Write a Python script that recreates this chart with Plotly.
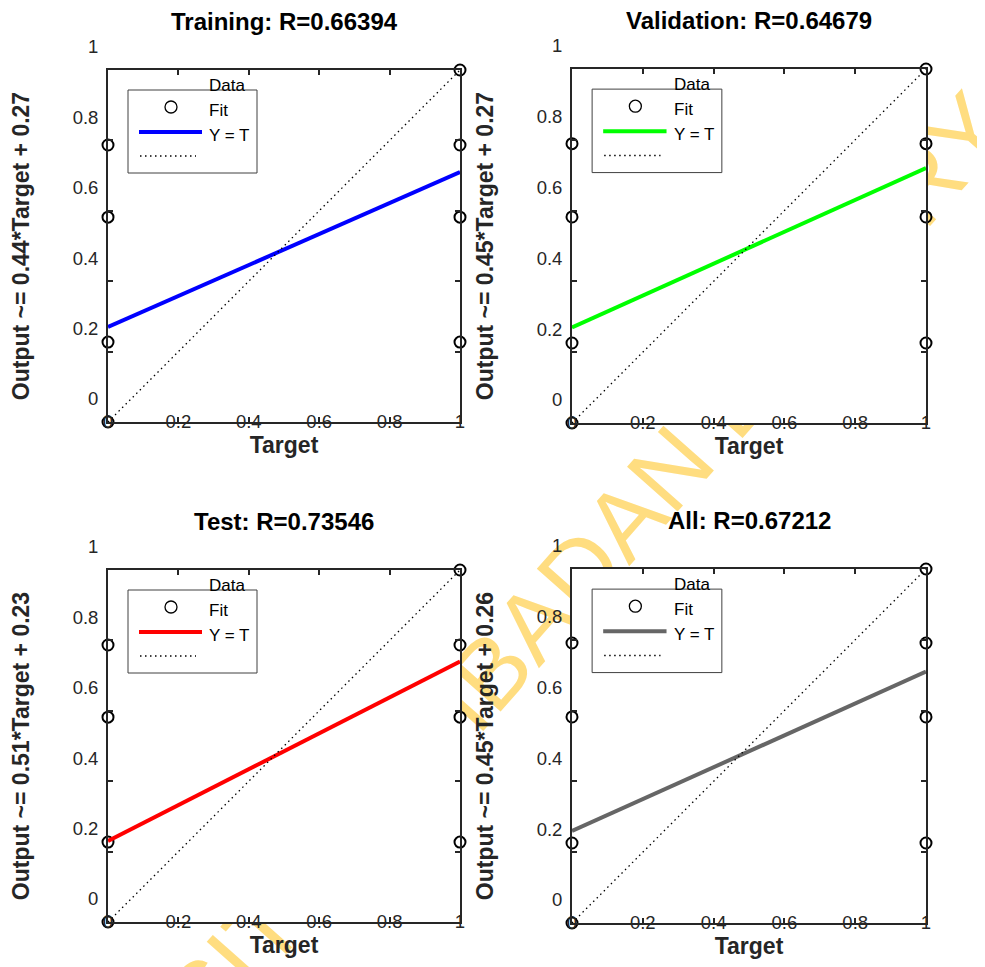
import plotly.graph_objects as go

# ---------------- data ----------------
panel_names = ["Training", "Validation", "Test", "All"]
r_values = [0.66394, 0.64679, 0.73546, 0.67212]
fit_slopes = [0.44, 0.45, 0.51, 0.45]
fit_intercepts = [0.27, 0.27, 0.23, 0.26]
fit_colors = ["#0000FF", "#00FF00", "#FF0000", "#666666"]

target_values = [0, 0, 0, 0, 1, 1, 1, 1]
output_training = [0.787, 0.582, 0.227, 0.0, 1.0, 0.787, 0.582, 0.227]
output_validation = [0.789, 0.582, 0.226, 0.0, 1.0, 0.789, 0.582, 0.226]
output_test = [0.787, 0.582, 0.227, 0.0, 1.0, 0.787, 0.582, 0.227]
output_all = [0.791, 0.582, 0.226, 0.0, 1.0, 0.791, 0.582, 0.226]
outputs_by_panel = [output_training, output_validation, output_test, output_all]

fit_targets = [0, 1]
tick_values = [0, 0.2, 0.4, 0.6, 0.8, 1]
tick_labels = ["0", "0.2", "0.4", "0.6", "0.8", "1"]
legend_labels = ["Data", "Fit", "Y = T"]
watermark_text = "UNIVERSITY OF IBADAN LIBRARY"

# ---------------- style ----------------
FONT = "Liberation Sans, Arial, Helvetica, sans-serif"
AX = "#262626"
OFF = 8                      # page body margin of the html page
W, H = 985 - OFF, 967 - OFF  # figure size so that it fits the window


def px_x(p):
    return (p - OFF) / W


def px_y(p):
    return 1 - (p - OFF) / H


boxes = [(108, 460, 70, 422), (572, 926, 69, 423), (108, 460, 570, 922), (572, 926, 569, 923)]
dom_x = [[px_x(b[0]), px_x(b[1])] for b in boxes]
dom_y = [[px_y(b[3]), px_y(b[2])] for b in boxes]

fig = go.Figure()
shapes = []
annotations = []

# watermark (behind the axes areas)
wx, wy = px_x(456), px_y(697)
shapes.append(dict(
    type="rect", xref="paper", yref="paper",
    x0=wx - 0.003, x1=wx + 0.003, y0=wy - 0.003, y1=wy + 0.003,
    line=dict(width=0), fillcolor="rgba(0,0,0,0)", layer="below",
    label=dict(text=watermark_text, textangle=-48.5, textposition="middle center",
               font=dict(family=FONT, size=98, color="#FFDD80")),
))

layout_axes = {}
for i in range(4):
    n = "" if i == 0 else str(i + 1)
    xa, ya = "x" + n, "y" + n
    outputs = outputs_by_panel[i]
    fit_y = [fit_slopes[i] * t + fit_intercepts[i] for t in fit_targets]

    fig.add_trace(go.Scatter(
        x=target_values, y=outputs, mode="markers", xaxis=xa, yaxis=ya,
        marker=dict(symbol="circle-open", size=11, color="black", line=dict(width=2, color="black")),
        cliponaxis=False, showlegend=False, name="Data"))
    fig.add_trace(go.Scatter(
        x=fit_targets, y=fit_y, mode="lines", xaxis=xa, yaxis=ya,
        line=dict(color=fit_colors[i], width=4), cliponaxis=False, showlegend=False, name="Fit"))
    fig.add_trace(go.Scatter(
        x=fit_targets, y=fit_targets, mode="lines", xaxis=xa, yaxis=ya,
        line=dict(color="black", width=1.3, dash="1.5px,3.5px"), cliponaxis=False,
        showlegend=False, name="Y = T"))

    # white plot area covering the watermark
    shapes.append(dict(type="rect", xref=xa, yref=ya, x0=0, x1=1, y0=0, y1=1,
                       fillcolor="white", line=dict(width=0), layer="below"))

    axis_common = dict(
        range=[0, 1], tickvals=tick_values, ticktext=tick_labels,
        ticks="inside", ticklen=5, tickwidth=1.5, tickcolor=AX,
        showline=True, linecolor=AX, linewidth=1.8, mirror="ticks",
        showgrid=False, zeroline=False, automargin=False,
        tickfont=dict(family=FONT, size=18.5, color=AX),
    )
    layout_axes["xaxis" + n] = dict(
        axis_common, domain=dom_x[i], anchor=ya, ticklabelstandoff=-18,
        title=dict(text="Target", standoff=2,
                   font=dict(family=FONT, size=23, color=AX, weight="bold")),
    )
    layout_axes["yaxis" + n] = dict(
        axis_common, domain=dom_y[i], anchor=xa, ticklabelshift=-23, ticklabelstandoff=4,
        title=dict(text=f"Output ~= {fit_slopes[i]:.2f}*Target + {fit_intercepts[i]:.2f}",
                   standoff=37, font=dict(family=FONT, size=23, color=AX, weight="bold")),
    )

    # subplot title
    annotations.append(dict(
        xref=xa + " domain", yref=ya + " domain", x=0.5, y=1, yshift=49,
        text=f"{panel_names[i]}: R={r_values[i]:.5f}", showarrow=False,
        xanchor="center", yanchor="middle",
        font=dict(family=FONT, size=24, color="black", weight="bold")))

    # MATLAB-style legend box (labels drawn one row up, as in the original)
    s = 352.0
    xd, yd = xa + " domain", ya + " domain"
    shapes.append(dict(type="rect", xref=xd, yref=yd, x0=20 / s, x1=149 / s,
                       y0=1 - 103 / s, y1=1 - 20 / s, fillcolor="white",
                       line=dict(color="#404040", width=1), layer="above"))
    shapes.append(dict(type="circle", xref=xd, yref=yd, xsizemode="pixel", ysizemode="pixel",
                       xanchor=63 / s, yanchor=1 - 37 / s, x0=-6, x1=6, y0=-6, y1=6,
                       line=dict(color="black", width=1.3), layer="above"))
    shapes.append(dict(type="line", xref=xd, yref=yd, x0=31 / s, x1=94 / s,
                       y0=1 - 62 / s, y1=1 - 62 / s,
                       line=dict(color=fit_colors[i], width=4), layer="above"))
    shapes.append(dict(type="line", xref=xd, yref=yd, x0=32 / s, x1=88 / s,
                       y0=1 - 86 / s, y1=1 - 86 / s,
                       line=dict(color="black", width=1.3, dash="1.5px,3.5px"), layer="above"))
    for lab, dy in zip(legend_labels, [15, 40, 65]):
        annotations.append(dict(
            xref=xd, yref=yd, x=99 / s, y=1 - dy / s, text=lab, showarrow=False,
            xanchor="left", yanchor="middle",
            font=dict(family=FONT, size=17, color="black")))

fig.update_layout(
    width=W, height=H, margin=dict(l=0, r=0, t=0, b=0, autoexpand=False),
    paper_bgcolor="white", plot_bgcolor="white",
    showlegend=False, shapes=shapes, annotations=annotations,
    **layout_axes,
)

fig.write_html("out.html")
